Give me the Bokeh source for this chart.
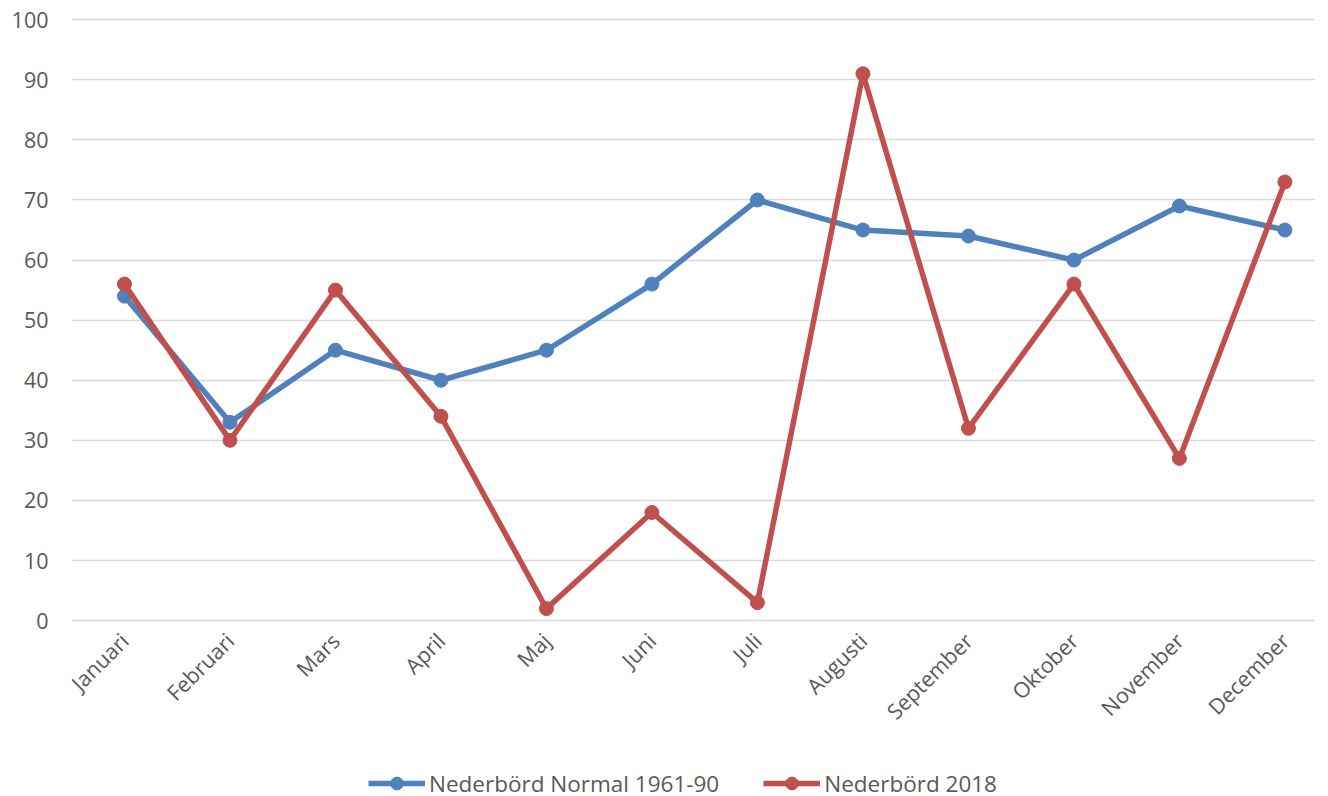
from bokeh.plotting import figure
from bokeh.models import Range1d, Legend, LegendItem, FixedTicker
from bokeh.embed import file_html
from bokeh.resources import INLINE
import math

months = ["Januari", "Februari", "Mars", "April", "Maj", "Juni", "Juli",
          "Augusti", "September", "Oktober", "November", "December"]
normal_1961_90 = [54, 33, 45, 40, 45, 56, 70, 65, 64, 60, 69, 65]
rain_2018 = [56, 30, 55, 34, 2, 18, 3, 91, 32, 56, 27, 73]
y_ticks = [0, 10, 20, 30, 40, 50, 60, 70, 80, 90, 100]

FONT = "Open Sans"
TXT = "#595959"
BLUE = "#4F81BD"
RED = "#C0504D"

xs = list(range(len(months)))

p = figure(frame_width=1244, frame_height=785, output_backend="svg", toolbar_location=None,
           x_range=Range1d(-0.502, 11.29), y_range=Range1d(-30.43, 100.2))
p.min_border_left = 71
p.min_border_right = 0
p.min_border_top = 18
p.min_border_bottom = 0
p.outline_line_color = None
p.background_fill_color = "white"

p.yaxis.ticker = FixedTicker(ticks=y_ticks)
p.xaxis.ticker = FixedTicker(ticks=xs)
p.xaxis.major_label_overrides = {i: m for i, m in enumerate(months)}
p.xaxis.major_label_orientation = math.pi / 4
p.xaxis.fixed_location = 0

for ax in (p.xaxis[0], p.yaxis[0]):
    ax.axis_line_color = None
    ax.major_tick_line_color = None
    ax.minor_tick_line_color = None
    ax.major_label_text_font = FONT
    ax.major_label_text_font_size = "21.5px"
    ax.major_label_text_color = TXT
p.yaxis.major_label_standoff = 17
p.xaxis.major_label_standoff = 10

p.xgrid.grid_line_color = None
p.ygrid.ticker = FixedTicker(ticks=y_ticks)
p.ygrid.grid_line_color = "#D9D9D9"
p.ygrid.grid_line_width = 1.5

l1 = p.line(xs, normal_1961_90, line_color=BLUE, line_width=5.5)
c1 = p.scatter(xs, normal_1961_90, size=14, fill_color=BLUE, line_color=BLUE)
l2 = p.line(xs, rain_2018, line_color=RED, line_width=5.5)
c2 = p.scatter(xs, rain_2018, size=14, fill_color=RED, line_color=RED)

legend = Legend(items=[
    LegendItem(label="Nederbörd Normal 1961-90", renderers=[l1, c1]),
    LegendItem(label="Nederbörd 2018", renderers=[l2, c2]),
], orientation="horizontal", location=(297, 4))
legend.label_text_font = FONT
legend.label_text_font_size = "22.5px"
legend.label_text_color = TXT
legend.glyph_width = 57
legend.glyph_height = 32
legend.label_height = 32
legend.label_standoff = 4
legend.spacing = 44
legend.border_line_color = None
legend.background_fill_alpha = 0
legend.padding = 0
legend.margin = 0
p.add_layout(legend, "center")

open("out.html", "w").write(file_html(p, INLINE))
